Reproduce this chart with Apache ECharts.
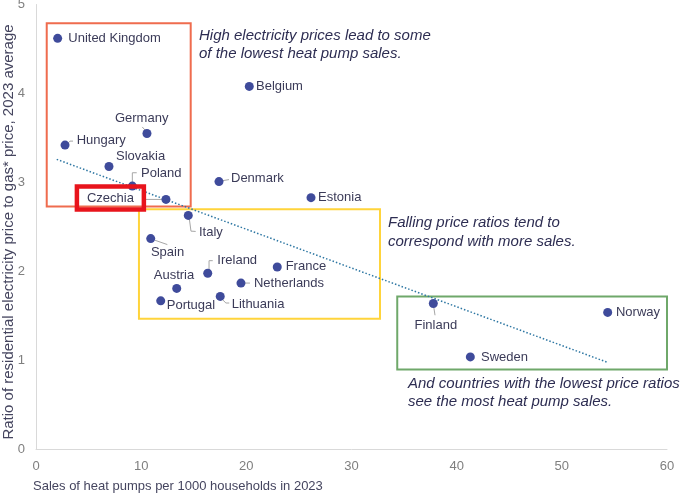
<!DOCTYPE html>
<html>
<head>
<meta charset="utf-8">
<script src="https://cdn.jsdelivr.net/npm/echarts@6/dist/echarts.min.js"></script>
<style>
html,body{margin:0;padding:0;background:#fff;}
#chart{width:681px;height:494px;}
</style>
</head>
<body>
<div id="chart"></div>
<script>
// ---- data ----
const countries = ["United Kingdom","Belgium","Germany","Hungary","Slovakia","Poland","Czechia","Denmark","Estonia","Italy","Spain","Ireland","France","Netherlands","Austria","Portugal","Lithuania","Finland","Norway","Sweden"];
const salesPer1000 = [2.06,20.28,10.55,2.76,6.94,9.16,12.36,17.40,26.15,14.48,10.91,16.33,22.94,19.49,13.38,11.86,17.52,37.78,54.36,41.30];
const priceRatio   = [4.62,4.08,3.55,3.42,3.18,2.96,2.81,3.01,2.83,2.63,2.37,1.98,2.05,1.87,1.81,1.67,1.72,1.64,1.54,1.04];
const trendX = [1.97, 54.32];
const trendY = [3.26, 0.98];
const xTicks = [0,10,20,30,40,50,60];
const yTicks = [0,1,2,3,4,5];
const boxX = [[1.02,14.71],[9.79,32.71],[34.35,60]];
const boxY = [[2.73,4.79],[1.47,2.70],[0.90,1.72]];
const boxColors = ["#EF6C4E","#FFD43B","#6FA86A"];
const annotations = [
  ["High electricity prices lead to some","of the lowest heat pump sales."],
  ["Falling price ratios tend to","correspond with more sales."],
  ["And countries with the lowest price ratios","see the most heat pump sales."]
];
const xTitle = "Sales of heat pumps per 1000 households in 2023";
const yTitle = "Ratio of residential electricity price to gas* price, 2023 average";

// ---- label placement (pixel offsets from point centre) ----
const labelPos = {
  "United Kingdom":["left",10.6,0],
  "Belgium":["left",6.7,0],
  "Germany":["center",-5.3,-15.6],
  "Hungary":["left",11.7,-5],
  "Slovakia":["left",7,-10],
  "Poland":["left",8.7,-13],
  "Czechia":["center",-55.6,-1.3],
  "Denmark":["left",12,-2.7],
  "Estonia":["left",7,0],
  "Italy":["left",10.7,17],
  "Spain":["center",16.8,14],
  "Ireland":["left",9.6,-13],
  "France":["left",8.4,-1],
  "Netherlands":["left",13,0.6],
  "Austria":["center",-2.7,-13.3],
  "Portugal":["left",6,5],
  "Lithuania":["left",11.4,7.6],
  "Finland":["center",2.5,21.7],
  "Norway":["left",8.3,0],
  "Sweden":["left",10.7,0]
};
const leaders = {
  "Hungary":[[3,-2],[5,-4],[8,-4]],
  "Germany":[[-4.7,-6.6],[-0.3,-1.6]],
  "Poland":[[0,-3],[0,-13.3],[4.4,-13.3]],
  "Czechia":[[-21,0],[-4,0]],
  "Denmark":[[4,-1],[10,-2]],
  "Italy":[[1,3],[2.7,15.7],[7.4,16]],
  "Spain":[[4.3,1.7],[16.6,6]],
  "Ireland":[[1.3,-3.3],[1.3,-12.6],[5,-12.6]],
  "Netherlands":[[2,0],[9,0]],
  "Lithuania":[[2,3],[5.7,6.6],[9,6.6]],
  "Finland":[[0.5,4],[1.7,11.7]]
};

const FONT = "Liberation Sans, Arial, sans-serif";
const labelColor = "#3b3b58";
const titleColor = "#45455f";

const points = countries.map((c,i)=>{
  const item = {name:c, value:[salesPer1000[i], priceRatio[i]]};
  if (c === "Czechia") {
    item.label = {borderColor:"#E8141C", borderWidth:4.5, padding:[5,10,5,10]};
  }
  return item;
});
const leaderData = countries.map((c,i)=>({name:c, value:[salesPer1000[i], priceRatio[i]]})).filter(d=>leaders[d.name]);

const chart = echarts.init(document.getElementById('chart'), null, {renderer:'canvas'});

const graphics = [];
const annPos = [[199,36,53.5],[388,223.3,241.7],[408,384,401.7]];
annotations.forEach((lines,k)=>{
  lines.forEach((t,j)=>{
    graphics.push({type:'text', style:{x:annPos[k][0], y:annPos[k][1+j], text:t, fill:"#2d2d52",
      font:"italic 15px " + FONT, verticalAlign:'middle', align:'left'}});
  });
});

chart.setOption({
  animation:false,
  backgroundColor:'#fff',
  grid:{left:36, right:14, top:4.5, bottom:44.5, containLabel:false, outerBoundsMode:'none'},
  xAxis:{
    type:'value', min:xTicks[0], max:xTicks[xTicks.length-1], interval:10,
    splitLine:{show:false}, axisTick:{show:false},
    axisLine:{show:true, lineStyle:{color:'#d9d9d9', width:1}},
    axisLabel:{color:'#7f7f7f', fontSize:13, fontFamily:FONT, margin:10},
    name:xTitle, nameLocation:'start', nameGap:3, nameMoveOverlap:false,
    nameTextStyle:{align:'left', verticalAlign:'top', padding:[30,0,0,0], color:titleColor, fontSize:13, fontFamily:FONT}
  },
  yAxis:{
    type:'value', min:yTicks[0], max:yTicks[yTicks.length-1], interval:1,
    splitLine:{show:false}, axisTick:{show:false},
    axisLine:{show:true, lineStyle:{color:'#d9d9d9', width:1}},
    axisLabel:{color:'#7f7f7f', fontSize:13, fontFamily:FONT, margin:11},
    name:yTitle, nameLocation:'middle', nameGap:20, nameRotate:90, nameMoveOverlap:false,
    nameTextStyle:{color:titleColor, fontSize:15, fontFamily:FONT, padding:[0,10,0,0]}
  },
  graphic:graphics,
  series:[
    {
      type:'line', z:1, silent:true,
      data: trendX.map((x,i)=>[x, trendY[i]]),
      symbol:'none',
      lineStyle:{color:'#2E77A3', width:1.5, type:[1.5,2]},
      markArea:{
        silent:true,
        data: boxX.map((bx,k)=>[
          {coord:[bx[0], boxY[k][0]], itemStyle:{color:'rgba(0,0,0,0)', borderColor:boxColors[k], borderWidth:2}},
          {coord:[bx[1], boxY[k][1]]}
        ])
      }
    },
    {
      type:'custom', z:2, silent:true,
      data: leaderData,
      renderItem:(params, api)=>{
        const p = api.coord([api.value(0), api.value(1)]);
        const name = leaderData[params.dataIndex].name;
        const pts = leaders[name].map(o=>[p[0]+o[0], p[1]+o[1]]);
        return {type:'polyline', shape:{points:pts}, style:{stroke:'#a6a6a6', lineWidth:1, fill:null}};
      }
    },
    {
      type:'scatter', z:3,
      symbolSize:9,
      itemStyle:{color:'#3F4B9B', opacity:1},
      data: points,
      label:{show:true, formatter:'{b}', color:labelColor, fontSize:13, fontFamily:FONT},
      labelLayout:(params)=>{
        const name = countries[params.dataIndex];
        const lp = labelPos[name];
        const cx = params.rect.x + params.rect.width/2;
        const cy = params.rect.y + params.rect.height/2;
        return {x: cx + lp[1], y: cy + lp[2], align: lp[0], verticalAlign:'middle'};
      }
    }
  ]
});
</script>
</body>
</html>
